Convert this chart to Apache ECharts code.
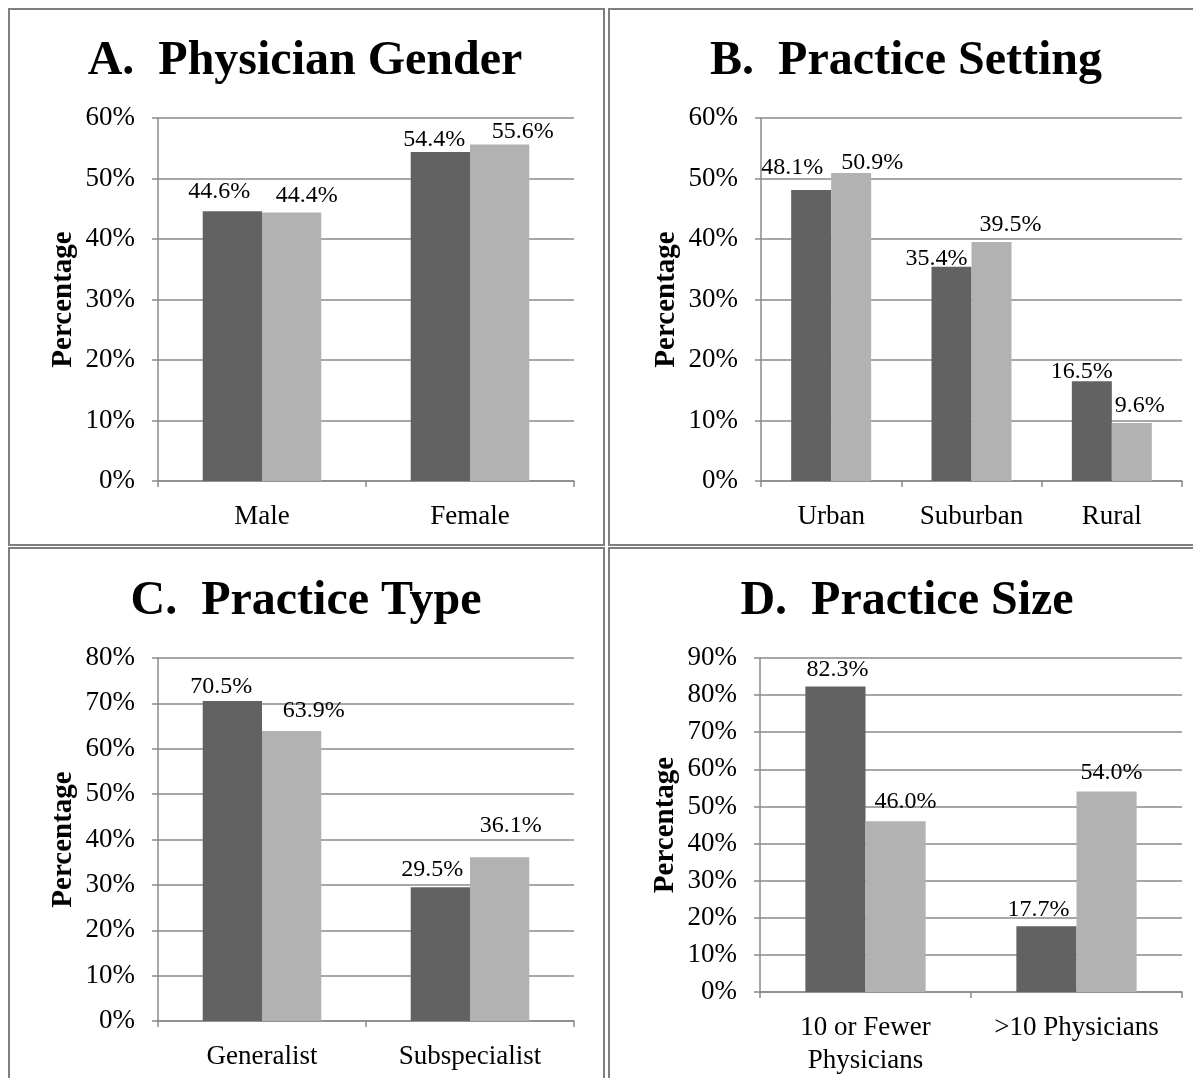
<!DOCTYPE html>
<html>
<head>
<meta charset="utf-8">
<script src="https://cdn.jsdelivr.net/npm/echarts@6/dist/echarts.min.js"></script>
<style>
  html, body { margin: 0; padding: 0; background: #ffffff; }
  #chart { width: 1193px; height: 1078px; }
</style>
</head>
<body>
<div id="chart"></div>
<script>
// ---- Data ----
const titles = ['A.  Physician Gender', 'B.  Practice Setting', 'C.  Practice Type', 'D.  Practice Size'];
const catsA = ['Male', 'Female'];
const darkA = [44.6, 54.4];
const lightA = [44.4, 55.6];
const catsB = ['Urban', 'Suburban', 'Rural'];
const darkB = [48.1, 35.4, 16.5];
const lightB = [50.9, 39.5, 9.6];
const catsC = ['Generalist', 'Subspecialist'];
const darkC = [70.5, 29.5];
const lightC = [63.9, 36.1];
const catsD = ['10 or Fewer\nPhysicians', '>10 Physicians'];
const darkD = [82.3, 17.7];
const lightD = [46.0, 54.0];
const yMax = [60, 60, 80, 90];
const yName = 'Percentage';

// ---- Styling (label nudges, layout) ----
const nudgeDark = [[[-13, -2], [-6, 5]], [[-19, -5], [-15, 9], [-10, 8]], [[-11, 3], [-8, 0]], [[2, 0], [-8, 0]]];
const nudgeLight = [[[15, 0], [23, 4]], [[21, 7], [19, 0], [8, 0]], [[22, -3], [11, -14]], [[10, -3], [5, -2]]];
const grids = [
  { left: 158, right: 619, top: 118, bottom: 597 },
  { left: 761, right: 11, top: 118, bottom: 597 },
  { left: 158, right: 619, top: 658, bottom: 57 },
  { left: 760, right: 11, top: 658, bottom: 86 }
];
const titlePos = [[305, 62], [906, 62], [306, 602], [907, 602]];
const panels = [[9, 9, 595, 536], [609, 9, 600, 536], [9, 548, 595, 540], [609, 548, 600, 540]];

const DARK = '#626262', LIGHT = '#b2b2b2', GRID = '#8a8a8a';
const FONT = '"Liberation Serif", "Times New Roman", serif';

const cats = [catsA, catsB, catsC, catsD];
const darks = [darkA, darkB, darkC, darkD];
const lights = [lightA, lightB, lightC, lightD];

const xAxis = [], yAxis = [], series = [], graphic = [];
for (let i = 0; i < 4; i++) {
  xAxis.push({
    type: 'category', gridIndex: i, data: cats[i],
    axisLine: { show: true, lineStyle: { color: GRID, width: 1.5 } },
    axisTick: { show: true, length: 6, lineStyle: { color: GRID, width: 1.5 } },
    axisLabel: { color: '#000', fontFamily: FONT, fontSize: 27, margin: 19, lineHeight: 33, interval: 0 }
  });
  yAxis.push({
    type: 'value', gridIndex: i, min: 0, max: yMax[i], interval: 10,
    name: yName, nameLocation: 'middle', nameGap: 80,
    nameTextStyle: { color: '#000', fontFamily: FONT, fontSize: 29, fontWeight: 'bold' },
    axisLine: { show: true, lineStyle: { color: GRID, width: 1.5 } },
    axisTick: { show: true, length: 6, lineStyle: { color: GRID, width: 1.5 } },
    splitLine: { show: true, lineStyle: { color: GRID, width: 1.5 } },
    axisLabel: { color: '#000', fontFamily: FONT, fontSize: 27, margin: 23, formatter: '{value}%' }
  });
  const lbl = { show: true, position: 'top', color: '#000', fontFamily: FONT, fontSize: 24,
                formatter: p => Number(p.value).toFixed(1) + '%' };
  series.push({
    type: 'bar', name: 'Series 1', xAxisIndex: i, yAxisIndex: i,
    barGap: 0, barCategoryGap: '43%', itemStyle: { color: DARK }, label: lbl,
    data: darks[i].map((v, j) => ({ value: v, label: { offset: nudgeDark[i][j] } }))
  });
  series.push({
    type: 'bar', name: 'Series 2', xAxisIndex: i, yAxisIndex: i,
    barGap: 0, barCategoryGap: '43%', itemStyle: { color: LIGHT }, label: lbl,
    data: lights[i].map((v, j) => ({ value: v, label: { offset: nudgeLight[i][j] } }))
  });
  const p = panels[i];
  graphic.push({
    type: 'rect', silent: true, z: 0,
    shape: { x: p[0], y: p[1], width: p[2], height: p[3] },
    style: { fill: 'none', stroke: '#7f7f7f', lineWidth: 2 }
  });
  graphic.push({
    type: 'text', silent: true,
    x: titlePos[i][0], y: titlePos[i][1],
    style: { text: titles[i], font: 'bold 48px ' + FONT, fill: '#000',
             align: 'center', verticalAlign: 'middle', textAlign: 'center', textVerticalAlign: 'middle' }
  });
}

const chart = echarts.init(document.getElementById('chart'), null, { renderer: 'canvas' });
chart.setOption({
  animation: false,
  backgroundColor: '#ffffff',
  grid: grids,
  xAxis, yAxis, series, graphic
});
</script>
</body>
</html>
